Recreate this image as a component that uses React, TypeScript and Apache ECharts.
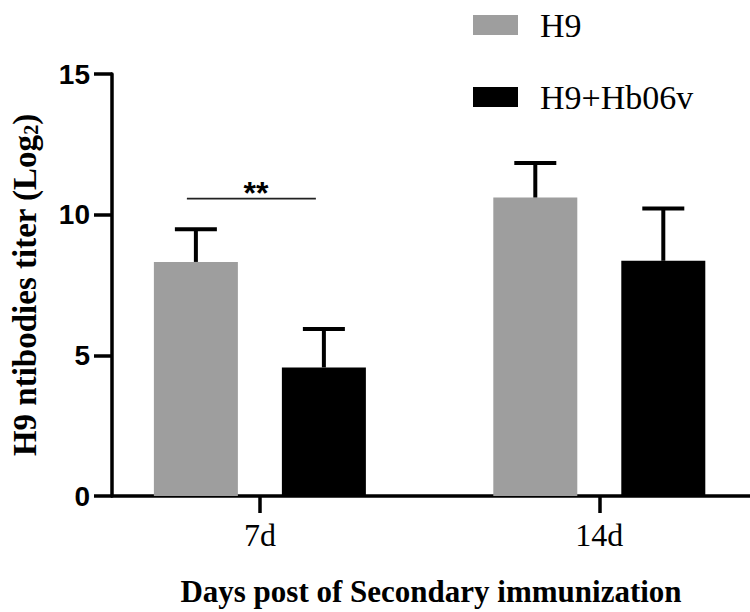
import React, { useEffect, useRef } from "react";
import * as echarts from "echarts";

const categories = ["7d", "14d"];
const categoryPositions = [1, 2];
const seriesNames = ["H9", "H9+Hb06v"];
const h9Means = [8.32, 10.61];
const h9Upper = [9.48, 11.84];
const hb06vMeans = [4.57, 8.36];
const hb06vUpper = [5.94, 10.22];
const yTicks = [0, 5, 10, 15];
const sigCategory = 1;
const sigLevel = 10.57;
const sigLabel = "**";

const BAR_W = 84;
const BAR_GAP = 44;
const HALF = (BAR_W + BAR_GAP) / 2;

function errorRender(offset: number) {
  return (params: any, api: any) => {
    const x = api.value(0);
    const m = api.coord([x, api.value(1)]);
    const u = api.coord([x, api.value(2)]);
    const cx = m[0] + offset;
    return {
      type: "group",
      children: [
        { type: "line", shape: { x1: cx, y1: m[1], x2: cx, y2: u[1] }, style: { stroke: "#000", lineWidth: 4 } },
        { type: "line", shape: { x1: cx - BAR_W / 4, y1: u[1], x2: cx + BAR_W / 4, y2: u[1] }, style: { stroke: "#000", lineWidth: 4 } },
      ],
    };
  };
}

export default function App() {
  const ref = useRef<HTMLDivElement>(null);
  useEffect(() => {
    if (!ref.current) return;
    const chart = echarts.init(ref.current, undefined, { renderer: "svg" });
    const h9Data = categoryPositions.map((p, i) => [p, h9Means[i]]);
    const hbData = categoryPositions.map((p, i) => [p, hb06vMeans[i]]);
    const h9Err = categoryPositions.map((p, i) => [p, h9Means[i], h9Upper[i]]);
    const hbErr = categoryPositions.map((p, i) => [p, hb06vMeans[i], hb06vUpper[i]]);
    chart.setOption({
      animation: false,
      backgroundColor: "#fff",
      grid: { left: 107, right: 0, top: 74, bottom: 111 },
      legend: {
        orient: "vertical",
        left: 468,
        top: 3,
        itemWidth: 45,
        itemHeight: 20,
        itemGap: 38,
        icon: "rect",
        data: seriesNames,
        textStyle: {
          fontFamily: "Liberation Serif",
          fontSize: 34,
          color: "#000",
          lineHeight: 20,
          padding: [0, 0, 0, 17],
        },
      },
      xAxis: {
        type: "value",
        min: 0.5643,
        max: 2.444,
        splitLine: { show: false },
        axisLine: { show: true, onZero: false, lineStyle: { color: "#000", width: 3.5 } },
        axisTick: { show: true, customValues: categoryPositions, length: 17, lineStyle: { color: "#000", width: 3.5 } },
        axisLabel: {
          customValues: categoryPositions,
          formatter: (v: number) => categories[categoryPositions.indexOf(Math.round(v))] ?? "",
          fontFamily: "Liberation Serif",
          fontSize: 32,
          lineHeight: 32,
          color: "#000",
          margin: 23,
        },
        name: "Days post of Secondary immunization",
        nameLocation: "middle",
        nameGap: 80,
        nameTextStyle: {
          fontFamily: "Liberation Serif",
          fontWeight: "bold",
          fontSize: 31,
          lineHeight: 31,
          color: "#000",
        },
      },
      yAxis: {
        type: "value",
        min: yTicks[0],
        max: yTicks[yTicks.length - 1],
        interval: 5,
        splitLine: { show: false },
        axisLine: { show: true, lineStyle: { color: "#000", width: 3.5 } },
        axisTick: { show: true, length: 18, lineStyle: { color: "#000", width: 3.5 } },
        axisLabel: {
          fontFamily: "Liberation Sans",
          fontWeight: "bold",
          fontSize: 28,
          color: "#000",
          margin: 22,
        },
        name: "{t|H9 ntibodies titer (Log}{s|2}{t|)}",
        nameLocation: "middle",
        nameGap: 71,
        nameTextStyle: {
          rich: {
            t: { fontFamily: "Liberation Serif", fontWeight: "bold", fontSize: 33, lineHeight: 40, verticalAlign: "bottom", color: "#000" },
            s: { fontFamily: "Liberation Serif", fontWeight: "bold", fontSize: 20, lineHeight: 20, verticalAlign: "bottom", color: "#000" },
          },
        },
      },
      series: [
        {
          name: seriesNames[0],
          type: "bar",
          data: h9Data,
          barWidth: BAR_W,
          barGap: (BAR_GAP / BAR_W) * 100 + "%",
          itemStyle: { color: "#9e9e9e" },
        },
        {
          name: seriesNames[1],
          type: "bar",
          data: hbData,
          barWidth: BAR_W,
          barGap: (BAR_GAP / BAR_W) * 100 + "%",
          itemStyle: { color: "#000" },
        },
        { type: "custom", data: h9Err, renderItem: errorRender(-HALF), encode: { x: 0, y: [1, 2] }, z: 3 },
        { type: "custom", data: hbErr, renderItem: errorRender(HALF), encode: { x: 0, y: [1, 2] }, z: 3 },
        {
          type: "custom",
          data: [[categoryPositions[sigCategory - 1], sigLevel]],
          encode: { x: 0, y: 1 },
          z: 3,
          renderItem: (params: any, api: any) => {
            const p = api.coord([api.value(0), api.value(1)]);
            return {
              type: "group",
              children: [
                { type: "line", shape: { x1: p[0] - HALF - 9, y1: p[1], x2: p[0] + HALF - 8, y2: p[1] }, style: { stroke: "#222", lineWidth: 1.6 } },
                {
                  type: "text",
                  x: p[0] - 4,
                  y: p[1] - 22,
                  style: { text: sigLabel, textAlign: "center", textVerticalAlign: "top", fontFamily: "Liberation Sans", fontWeight: "bold", fontSize: 32, fill: "#000" },
                },
              ],
            };
          },
        },
      ],
    });
    return () => chart.dispose();
  }, []);
  return <div ref={ref} style={{ position: "fixed", left: 0, top: 0, width: 750, height: 612 }} />;
}
